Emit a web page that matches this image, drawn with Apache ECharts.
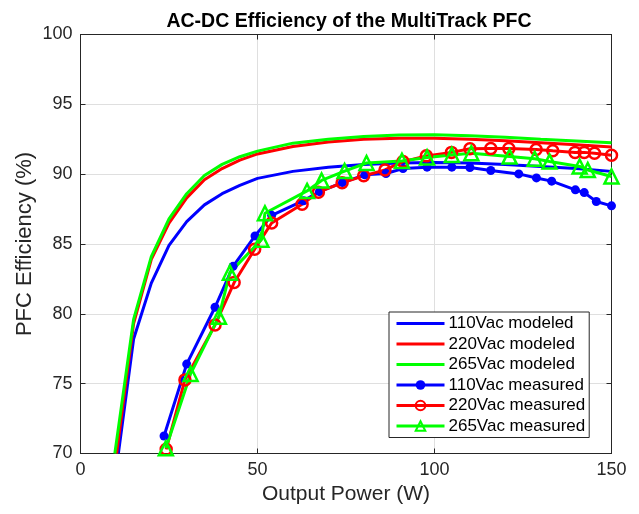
<!DOCTYPE html>
<html>
<head>
<meta charset="utf-8">
<script src="https://cdn.jsdelivr.net/npm/echarts@6/dist/echarts.min.js"></script>
<style>
html,body{margin:0;padding:0;background:#fff;}
#c{width:639px;height:514px;}
</style>
</head>
<body>
<div id="c"></div>
<script>
// ---- data ----
var xTicks = [0, 50, 100, 150];
var yTicks = [70, 75, 80, 85, 90, 95, 100];
var seriesNames = ['110Vac modeled', '220Vac modeled', '265Vac modeled',
                   '110Vac measured', '220Vac measured', '265Vac measured'];

var mod110P = [10.7, 15, 20, 25, 30, 35, 40, 45, 50, 60, 70, 80, 90, 100, 110, 120, 130, 140, 150];
var mod110E = [70, 78.2, 82.2, 84.9, 86.6, 87.8, 88.6, 89.2, 89.7, 90.2, 90.5, 90.7, 90.8, 90.83, 90.8, 90.7, 90.55, 90.4, 90.2];

var mod220P = [10.2, 15, 20, 25, 30, 35, 40, 45, 50, 60, 70, 80, 90, 100, 110, 120, 130, 140, 150];
var mod220E = [70, 79.3, 83.9, 86.5, 88.3, 89.6, 90.4, 91.0, 91.45, 91.98, 92.3, 92.5, 92.58, 92.58, 92.5, 92.4, 92.25, 92.1, 91.95];

var mod265P = [9.7, 15, 20, 25, 30, 35, 40, 45, 50, 60, 70, 80, 90, 100, 110, 120, 130, 140, 150];
var mod265E = [70, 79.6, 84.1, 86.8, 88.6, 89.9, 90.7, 91.25, 91.65, 92.22, 92.5, 92.7, 92.8, 92.82, 92.75, 92.65, 92.5, 92.38, 92.25];

var meas110P = [23.6, 30, 38, 43.1, 49.3, 54, 63, 67.5, 74, 80.3, 86.3, 91.1, 97.9, 104.9, 110, 115.9, 123.8, 128.8, 133.1, 139.8, 142.3, 145.7, 150];
var meas110E = [71.25, 76.4, 80.47, 83.4, 85.58, 87.05, 88.1, 88.75, 89.4, 89.95, 90.05, 90.4, 90.5, 90.5, 90.48, 90.26, 90.02, 89.73, 89.5, 88.88, 88.68, 88.04, 87.73];

var meas220P = [24.2, 29.5, 38, 43.4, 49.2, 54, 62.6, 67.2, 73.9, 80, 86, 91.1, 97.7, 104.8, 110, 115.9, 121, 128.7, 133.4, 139.7, 142.3, 145.2, 150];
var meas220E = [70.3, 75.27, 79.2, 82.24, 84.63, 86.5, 87.85, 88.71, 89.38, 89.88, 90.3, 90.9, 91.31, 91.56, 91.82, 91.83, 91.83, 91.77, 91.67, 91.56, 91.56, 91.5, 91.35];

var meas265P = [24.1, 31.1, 39.1, 42.2, 51.1, 52.1, 64.0, 68.1, 74.6, 80.8, 90.8, 97.9, 104.9, 110.4, 121.2, 128.3, 132.5, 141, 143.3, 150];
var meas265E = [70.37, 75.7, 79.8, 82.95, 85.3, 87.2, 88.8, 89.55, 90.22, 90.8, 90.95, 91.2, 91.38, 91.5, 91.26, 91.1, 90.9, 90.55, 90.3, 89.83];

// ---- build ----
function zip(a, b) { return a.map(function (v, i) { return [v, b[i]]; }); }
var FONT = '"Liberation Sans", Arial, Helvetica, sans-serif';
var TXT = '#262626';
var BLUE = '#0000ff', RED = '#ff0000', GREEN = '#00ff00';
var LINE_ICON = 'path://M0,0L48,0L48,3L0,3Z';

function modeled(name, color, P, E) {
  return {
    name: name, type: 'line', data: zip(P, E), symbol: 'none', smooth: false,
    lineStyle: { color: color, width: 3 }, itemStyle: { color: color },
    clip: true, z: 2
  };
}
function measured(name, color, P, E, sym, size, filled) {
  return {
    name: name, type: 'line', data: zip(P, E), symbol: sym, symbolSize: size,
    showSymbol: true, showAllSymbol: true,
    lineStyle: { color: color, width: 3 },
    itemStyle: filled ? { color: color, borderColor: color, borderWidth: 0 }
                      : { color: 'rgba(255,255,255,0)', borderColor: color, borderWidth: 2.5 },
    clip: true, z: 3
  };
}

var legendData = seriesNames.map(function (n, i) {
  return i < 3 ? { name: n, icon: LINE_ICON } : { name: n };
});

var chart = echarts.init(document.getElementById('c'), null, { renderer: 'canvas' });
chart.setOption({
  animation: false,
  backgroundColor: '#ffffff',
  textStyle: { fontFamily: FONT },
  title: {
    text: 'AC-DC Efficiency of the MultiTrack PFC',
    left: 344, top: 7, textAlign: 'center',
    textStyle: { fontFamily: FONT, fontSize: 19.5, fontWeight: 'bold', color: '#000' }
  },
  grid: { left: 80.5, right: 27.5, top: 34.5, bottom: 60.5, containLabel: false },
  legend: {
    data: legendData,
    orient: 'vertical',
    left: 389, top: 312,
    itemWidth: 48, itemHeight: 12, itemGap: 3.5,
    padding: [3, 4, 3, 6],
    backgroundColor: '#ffffff',
    borderColor: '#262626', borderWidth: 1, borderRadius: 0,
    lineStyle: { width: 3 },
    textStyle: { fontFamily: FONT, fontSize: 17, color: '#000', padding: [0, 0, 0, -1] },
    selectedMode: false
  },
  xAxis: [{
    type: 'value', min: 0, max: 150, interval: 50,
    name: 'Output Power (W)', nameLocation: 'middle', nameGap: 30, nameMoveOverlap: false,
    nameTextStyle: { fontFamily: FONT, fontSize: 21, color: TXT },
    axisLine: { show: true, onZero: false, lineStyle: { color: TXT, width: 1 } },
    axisTick: { show: true, inside: true, length: 5, lineStyle: { color: TXT } },
    axisLabel: { fontFamily: FONT, fontSize: 18, color: TXT, margin: 8 },
    splitLine: { show: true, lineStyle: { color: '#dfdfdf', width: 1 } }
  }, {
    type: 'value', min: 0, max: 150, interval: 50, position: 'top',
    axisLine: { show: true, onZero: false, lineStyle: { color: TXT, width: 1 } },
    axisTick: { show: true, inside: true, length: 5, lineStyle: { color: TXT } },
    axisLabel: { show: false }, splitLine: { show: false }
  }],
  yAxis: [{
    type: 'value', min: 70, max: 100, interval: 5,
    name: 'PFC Efficiency (%)', nameLocation: 'middle', nameGap: 45, nameRotate: 90, nameMoveOverlap: false,
    nameTextStyle: { fontFamily: FONT, fontSize: 22, color: TXT },
    axisLine: { show: true, onZero: false, lineStyle: { color: TXT, width: 1 } },
    axisTick: { show: true, inside: true, length: 5, lineStyle: { color: TXT } },
    axisLabel: { fontFamily: FONT, fontSize: 18, color: TXT, margin: 8 },
    splitLine: { show: true, lineStyle: { color: '#dfdfdf', width: 1 } }
  }, {
    type: 'value', min: 70, max: 100, interval: 5, position: 'right',
    axisLine: { show: true, onZero: false, lineStyle: { color: TXT, width: 1 } },
    axisTick: { show: true, inside: true, length: 5, lineStyle: { color: TXT } },
    axisLabel: { show: false }, splitLine: { show: false }
  }],
  series: [
    modeled(seriesNames[0], BLUE, mod110P, mod110E),
    modeled(seriesNames[1], RED, mod220P, mod220E),
    modeled(seriesNames[2], GREEN, mod265P, mod265E),
    measured(seriesNames[3], BLUE, meas110P, meas110E, 'circle', 9, true),
    measured(seriesNames[4], RED, meas220P, meas220E, 'circle', 11, false),
    measured(seriesNames[5], GREEN, meas265P, meas265E, 'triangle', 14, false)
  ]
});
</script>
</body>
</html>
